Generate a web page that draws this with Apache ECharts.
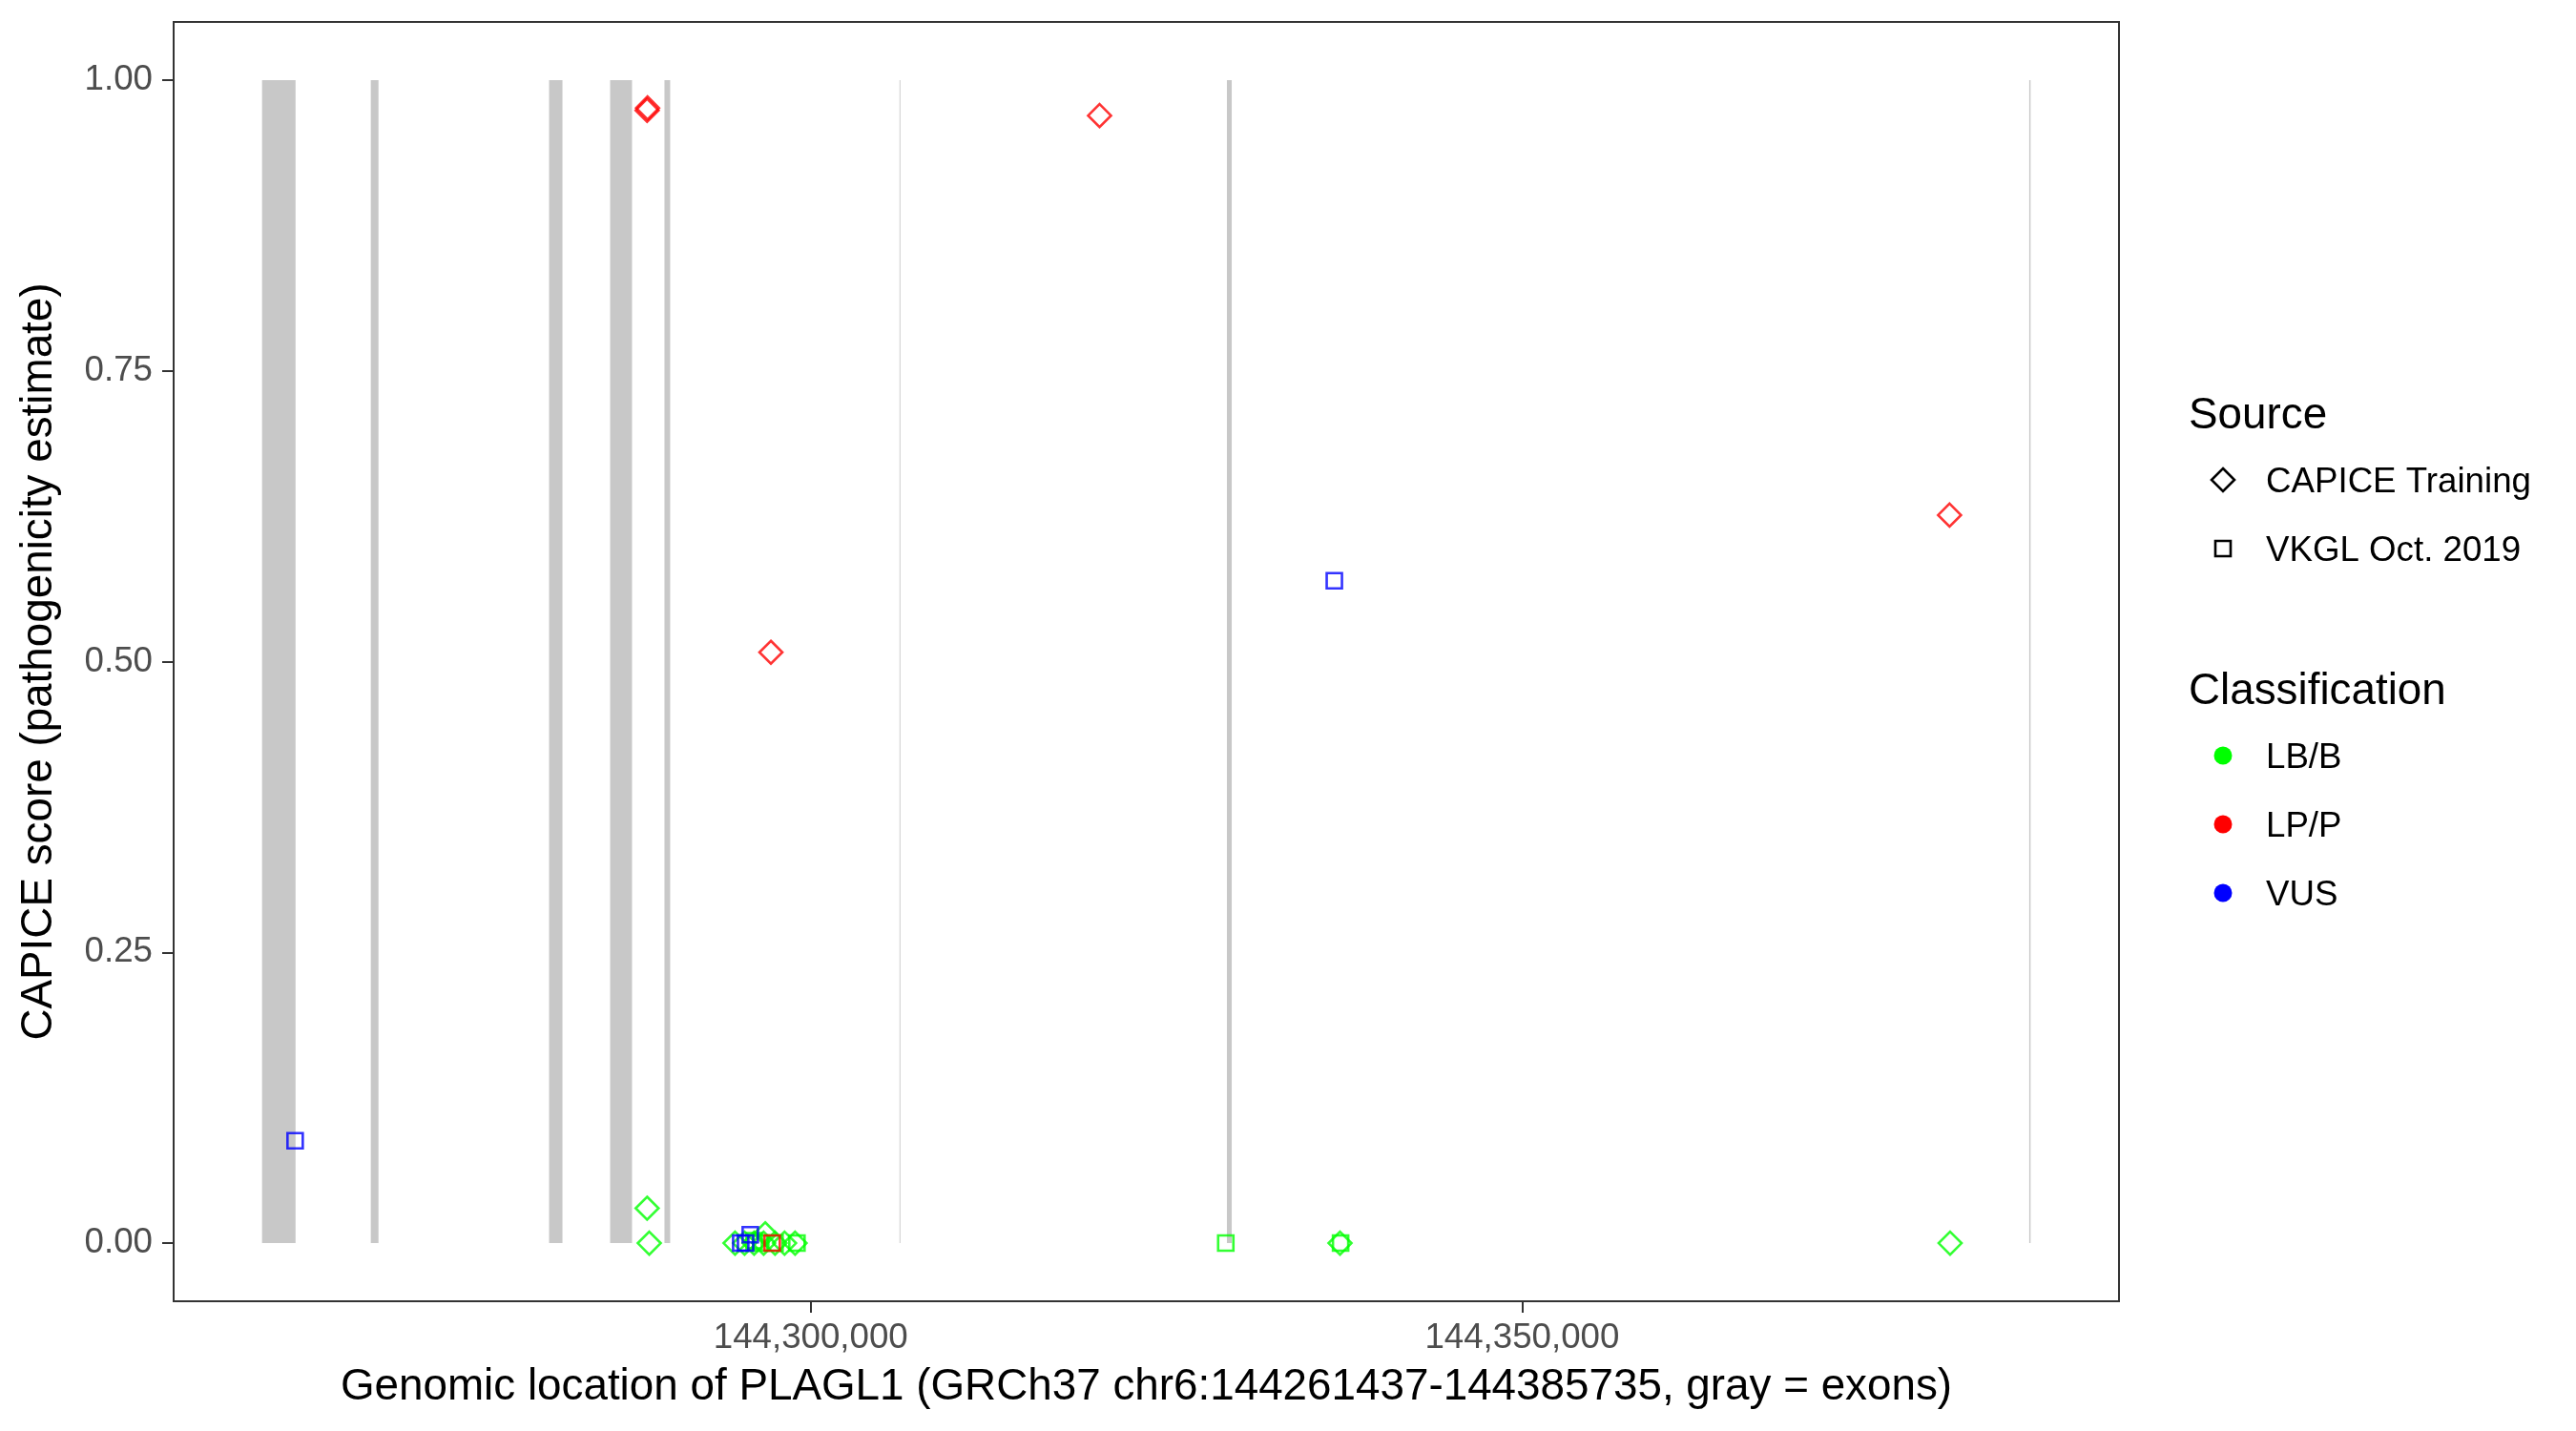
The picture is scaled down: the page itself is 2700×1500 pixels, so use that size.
<!DOCTYPE html>
<html>
<head>
<meta charset="utf-8">
<script src="https://cdn.jsdelivr.net/npm/echarts@6/dist/echarts.min.js"></script>
<style>
  html, body { margin: 0; padding: 0; background: #fff; }
  #chart { width: 2700px; height: 1500px; }
</style>
</head>
<body>
<div id="chart"></div>
<script>
// exon start/end on chr6 (gray bands, drawn from score 0 to 1)
const exons = [
  [144261437, 144263790],
  [144269080, 144269620],
  [144281610, 144282550],
  [144285900, 144287440],
  [144289720, 144290120],
  [144306240, 144306300],
  [144329250, 144329590],
  [144385640, 144385735]
];

// [position, CAPICE score]
const capiceLBB = [
  [144288500, 0.030], [144288650, 0.0],
  [144294680, 0.0], [144295350, 0.0], [144296020, 0.0], [144296690, 0.0],
  [144296800, 0.008], [144297490, 0.0], [144298160, 0.0], [144298900, 0.0],
  [144337200, 0.0], [144380080, 0.0]
];
const capiceLPP = [
  [144288500, 0.974], [144288530, 0.976], [144297200, 0.508],
  [144320300, 0.9695], [144380040, 0.626]
];
const vkglLBB = [
  [144296020, 0.002], [144296490, 0.0], [144297490, 0.0], [144299030, 0.0],
  [144329170, 0.0], [144337240, 0.0]
];
const vkglVUS = [
  [144263760, 0.088], [144295080, 0.0], [144295420, 0.0], [144295750, 0.0072],
  [144336800, 0.5695]
];
const vkglLPP = [
  [144297290, 0.0]
];

const xTicks = [144300000, 144350000];
const yTicks = [0, 0.25, 0.5, 0.75, 1];

const COLORS = { 'LB/B': '#00ff00', 'LP/P': '#ff0000', 'VUS': '#0000ff' };
const FONT = 'Liberation Sans, Arial, Helvetica, sans-serif';

function pointSeries(name, data, shape, cls) {
  return {
    name: name,
    type: 'scatter',
    data: data,
    symbol: shape === 'diamond' ? 'diamond' : 'rect',
    symbolSize: shape === 'diamond' ? 24 : 16,
    itemStyle: { color: 'transparent', borderColor: COLORS[cls], borderWidth: 2.6 },
    emphasis: { disabled: true },
    z: 3
  };
}

const chart = echarts.init(document.getElementById('chart'));

const option = {
  animation: false,
  backgroundColor: '#ffffff',
  textStyle: { fontFamily: FONT },
  grid: {
    left: 182, top: 23, width: 2039, height: 1341,
    show: true, borderColor: '#333333', borderWidth: 2, backgroundColor: '#ffffff'
  },
  xAxis: {
    type: 'value',
    min: 144255222,
    max: 144391950,
    name: 'Genomic location of PLAGL1 (GRCh37 chr6:144261437-144385735, gray = exons)',
    nameLocation: 'middle',
    nameGap: 67,
    nameTextStyle: { fontSize: 45.8, color: '#000', fontFamily: FONT },
    axisLine: { show: false, onZero: false },
    axisTick: { show: true, length: 12, customValues: xTicks, lineStyle: { color: '#333', width: 2 } },
    axisLabel: {
      customValues: xTicks, fontSize: 36.7, color: '#4d4d4d', margin: 20, fontFamily: FONT,
      formatter: v => Number(v).toLocaleString('en-US')
    },
    splitLine: { show: false }
  },
  yAxis: {
    type: 'value',
    min: -0.05,
    max: 1.05,
    name: 'CAPICE score (pathogenicity estimate)',
    nameLocation: 'middle',
    nameGap: 118,
    nameRotate: 90,
    nameTextStyle: { fontSize: 45.8, color: '#000', fontFamily: FONT },
    axisLine: { show: false, onZero: false },
    axisTick: { show: true, length: 12, customValues: yTicks, lineStyle: { color: '#333', width: 2 } },
    axisLabel: {
      customValues: yTicks, fontSize: 36.7, color: '#4d4d4d', margin: 22, fontFamily: FONT,
      formatter: v => Number(v).toFixed(2)
    },
    splitLine: { show: false }
  },
  series: [
    {
      name: 'exons',
      type: 'custom',
      data: exons.map(e => [e[0], e[1], 0, 1]),
      encode: { x: [0, 1], y: [2, 3] },
      renderItem: function (params, api) {
        const a = api.coord([api.value(0), api.value(2)]);
        const b = api.coord([api.value(1), api.value(3)]);
        return {
          type: 'rect',
          shape: { x: a[0], y: b[1], width: b[0] - a[0], height: a[1] - b[1] },
          style: { fill: '#c8c8c8' }
        };
      },
      silent: true,
      z: 1
    },
    pointSeries('CAPICE Training LB/B', capiceLBB, 'diamond', 'LB/B'),
    pointSeries('CAPICE Training LP/P', capiceLPP, 'diamond', 'LP/P'),
    pointSeries('VKGL LB/B', vkglLBB, 'square', 'LB/B'),
    pointSeries('VKGL VUS', vkglVUS, 'square', 'VUS'),
    pointSeries('VKGL LP/P', vkglLPP, 'square', 'LP/P')
  ],
  graphic: [
    { type: 'text', left: 2294, top: 440 - 27, style: { text: 'Source', fontSize: 45.8, fill: '#000', fontFamily: FONT } },
    { type: 'polygon', shape: { points: [[2330, 503 - 12], [2342, 503], [2330, 503 + 12], [2318, 503]] },
      style: { fill: 'none', stroke: '#000', lineWidth: 2.6 } },
    { type: 'text', left: 2375, top: 508 - 21, style: { text: 'CAPICE Training', fontSize: 36.7, fill: '#000', fontFamily: FONT } },
    { type: 'rect', shape: { x: 2322, y: 567, width: 16, height: 16 },
      style: { fill: 'none', stroke: '#000', lineWidth: 2.6 } },
    { type: 'text', left: 2375, top: 580 - 21, style: { text: 'VKGL Oct. 2019', fontSize: 36.7, fill: '#000', fontFamily: FONT } },
    { type: 'text', left: 2294, top: 729 - 27, style: { text: 'Classification', fontSize: 45.8, fill: '#000', fontFamily: FONT } },
    { type: 'circle', shape: { cx: 2330, cy: 792, r: 9.5 }, style: { fill: COLORS['LB/B'] } },
    { type: 'text', left: 2375, top: 797 - 21, style: { text: 'LB/B', fontSize: 36.7, fill: '#000', fontFamily: FONT } },
    { type: 'circle', shape: { cx: 2330, cy: 864, r: 9.5 }, style: { fill: COLORS['LP/P'] } },
    { type: 'text', left: 2375, top: 869 - 21, style: { text: 'LP/P', fontSize: 36.7, fill: '#000', fontFamily: FONT } },
    { type: 'circle', shape: { cx: 2330, cy: 936, r: 9.5 }, style: { fill: COLORS['VUS'] } },
    { type: 'text', left: 2375, top: 941 - 21, style: { text: 'VUS', fontSize: 36.7, fill: '#000', fontFamily: FONT } }
  ]
};

chart.setOption(option);
</script>
</body>
</html>
